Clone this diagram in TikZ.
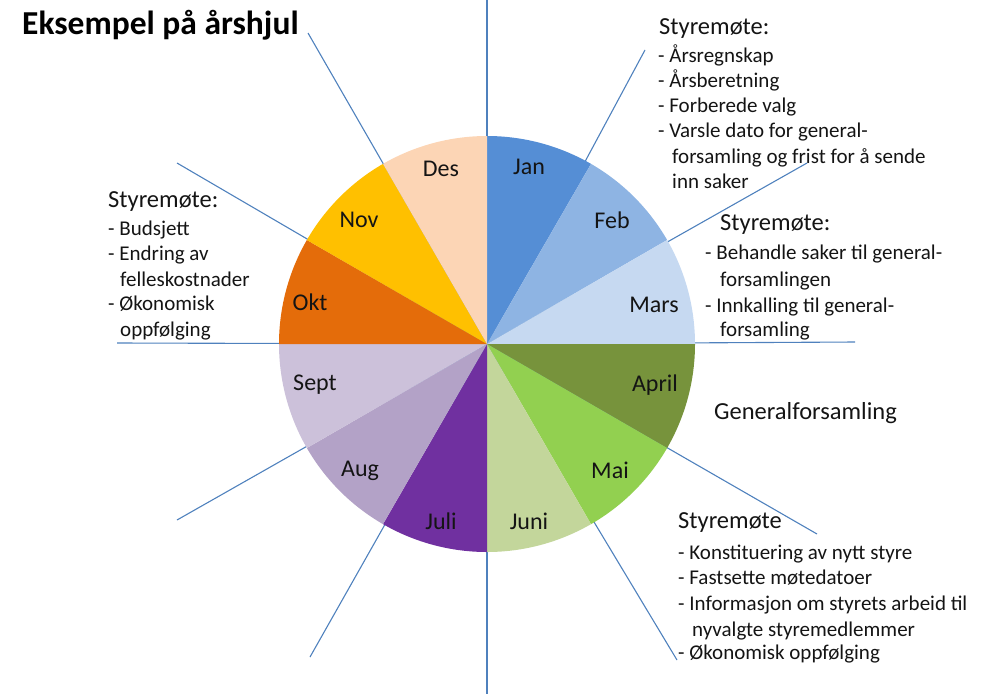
\documentclass[tikz,border=0pt]{standalone}
\usepackage{fontspec}
\setmainfont{Carlito}
\definecolor{cJan}{HTML}{558ED5}
\definecolor{cFeb}{HTML}{8EB4E3}
\definecolor{cMar}{HTML}{C6D9F1}
\definecolor{cApr}{HTML}{77933C}
\definecolor{cMai}{HTML}{92D050}
\definecolor{cJun}{HTML}{C3D69B}
\definecolor{cJul}{HTML}{7030A0}
\definecolor{cAug}{HTML}{B3A2C7}
\definecolor{cSep}{HTML}{CCC1DA}
\definecolor{cOkt}{HTML}{E46C0A}
\definecolor{cNov}{HTML}{FFC000}
\definecolor{cDes}{HTML}{FCD5B5}
\definecolor{spokeblue}{RGB}{79,129,189}
\definecolor{txt}{RGB}{20,20,20}
\tikzset{
  spoke/.style={draw=spokeblue, line width=1.1pt},
  month/.style={font=\fontsize{24}{29}\selectfont, inner sep=0pt, text=txt},
  head/.style={font=\fontsize{24.5}{29}\selectfont, anchor=mid west, inner sep=0pt, text=txt, yshift=-5pt},
  bul/.style={font=\fontsize{21}{25}\selectfont, anchor=mid west, inner sep=0pt, text=txt, yshift=-5pt},
  ttl/.style={font=\fontsize{33.5}{40}\selectfont\bfseries, anchor=mid west, inner sep=0pt, text=black, yshift=-5pt},
}
\newcommand{\slice}[3]{\fill[#1] (O) -- ++(#2:208) arc[start angle=#2, end angle=#3, radius=208] -- cycle;}
\begin{document}
\begin{tikzpicture}[x=1pt,y=1pt]
\useasboundingbox (0,0) rectangle (984,-694);
\coordinate (O) at (487,-344);
% spoke end points
\coordinate (e90) at (487,0);
\coordinate (e60) at (645,-50);
\coordinate (e30) at (807,-163);
\coordinate (e0) at (855,-342);
\coordinate (em30) at (817,-534);
\coordinate (em60) at (677,-660);
\coordinate (em90) at (487,-694);
\coordinate (e240) at (310,-657);
\coordinate (e210) at (177,-520);
\coordinate (e180) at (117,-343);
\coordinate (e150) at (177,-163);
\coordinate (e120) at (308,-33);
\foreach \e in {e90,e60,e30,e0,em30,em60,em90,e240,e210,e180,e150,e120}
  \draw[spoke] (O) -- (\e);
% pie
\slice{cJan}{90}{60}
\slice{cFeb}{60}{30}
\slice{cMar}{30}{0}
\slice{cApr}{0}{-30}
\slice{cMai}{-30}{-60}
\slice{cJun}{-60}{-90}
\slice{cJul}{-90}{-120}
\slice{cAug}{-120}{-150}
\slice{cSep}{-150}{-180}
\slice{cOkt}{180}{150}
\slice{cNov}{150}{120}
\slice{cDes}{120}{90}
% month labels
\node[month] (mJan) at (529,-167) {Jan};
\node[month] (mFeb) at (612,-220) {Feb};
\node[month] (mMar) at (654,-305) {Mars};
\node[month] (mApr) at (655,-385) {April};
\node[month] (mMai) at (610,-470) {Mai};
\node[month] (mJun) at (529,-521) {Juni};
\node[month] (mJul) at (441,-521) {Juli};
\node[month] (mAug) at (360,-471) {Aug};
\node[month] (mSep) at (315,-385) {Sept};
\node[month] (mOkt) at (310,-302) {Okt};
\node[month] (mNov) at (359,-220) {Nov};
\node[month] (mDes) at (441,-169) {Des};
% title
\node[ttl] (title) at (22,-27) {Eksempel på årshjul};
% Jan block
\node[head] (h1) at (659,-27) {Styremøte:};
\node[bul] (a1) at (658,-55) {- Årsregnskap};
\node[bul] (a2) at (658,-80) {- Årsberetning};
\node[bul] (a3) at (658,-105) {- Forberede valg};
\node[bul] (a4) at (658,-130) {- Varsle dato for general-};
\node[bul] (a5) at (672,-156) {forsamling og frist for å sende};
\node[bul] (a6) at (672,-181) {inn saker};
% Mars block
\node[head] (h2) at (720,-223) {Styremøte:};
\node[bul] (b1) at (705,-252) {- Behandle saker til general-};
\node[bul] (b2) at (720,-279) {forsamlingen};
\node[bul] (b3) at (705,-305) {- Innkalling til general-};
\node[bul] (b4) at (720,-329) {forsamling};
% April
\node[head] (gf) at (714,-412) {Generalforsamling};
% Mai block
\node[head] (h3) at (678,-521) {Styremøte};
\node[bul] (c1) at (678,-552) {- Konstituering av nytt styre};
\node[bul] (c2) at (678,-577) {- Fastsette møtedatoer};
\node[bul] (c3) at (678,-603) {- Informasjon om styrets arbeid til};
\node[bul] (c4) at (692,-629) {nyvalgte styremedlemmer};
\node[bul] (c5) at (678,-652) {- Økonomisk oppfølging};
% Okt block
\node[head] (h4) at (108,-200) {Styremøte:};
\node[bul] (d1) at (108,-228) {- Budsjett};
\node[bul] (d2) at (108,-253) {- Endring av};
\node[bul] (d3) at (120,-279) {felleskostnader};
\node[bul] (d4) at (108,-303) {- Økonomisk};
\node[bul] (d5) at (120,-329) {oppfølging};
\end{tikzpicture}
\end{document}
